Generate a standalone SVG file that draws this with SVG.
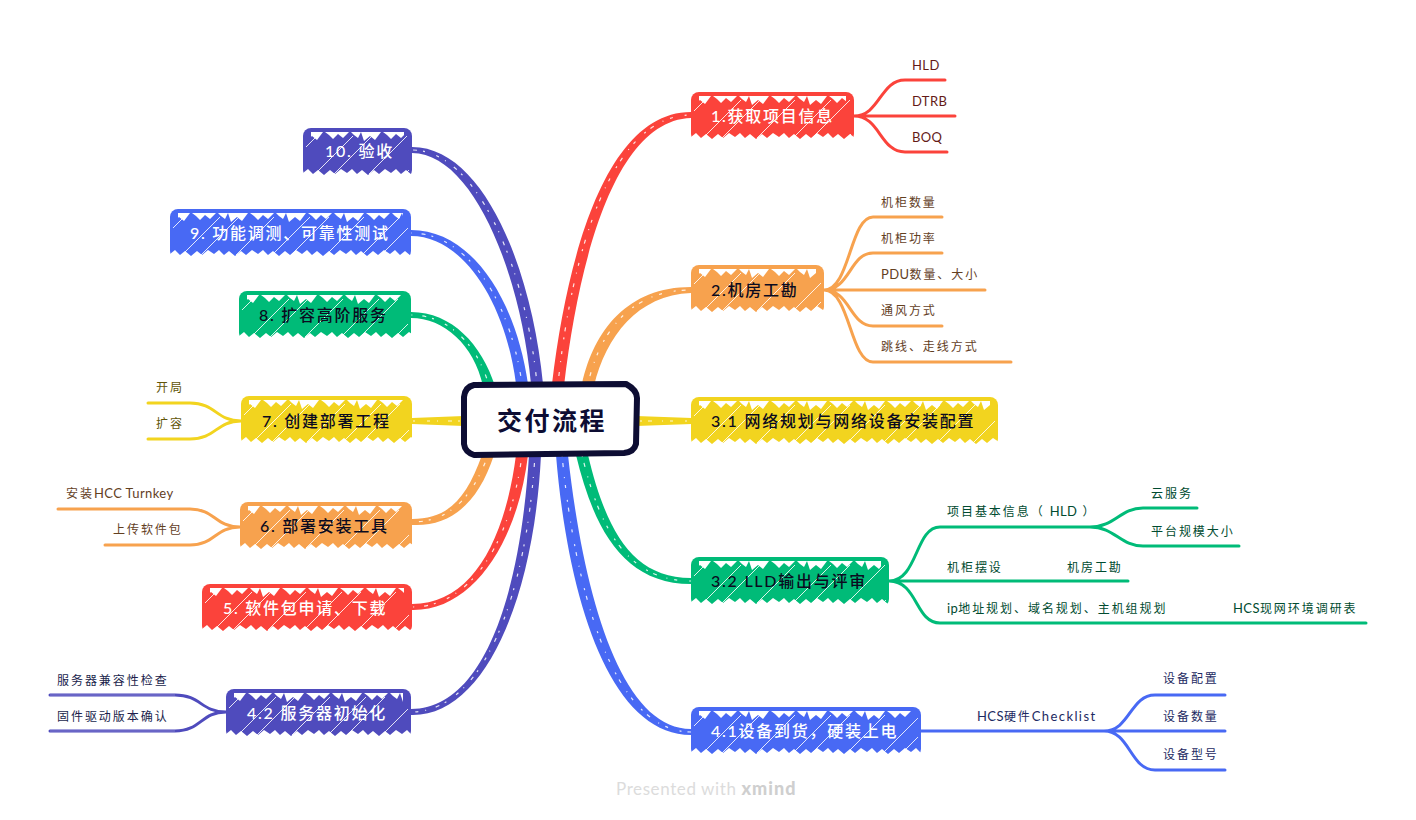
<svg xmlns="http://www.w3.org/2000/svg" width="1416" height="820" viewBox="0 0 1416 820">
<style>
text{font-family:"Lato","Noto Sans CJK SC",sans-serif}
.nt{font-size:16px;font-weight:500;letter-spacing:1.75px;fill:#0b0b20}
.nw{fill:#fff}
.st{font-size:12px;letter-spacing:1.95px}
.la{font-size:13px;letter-spacing:.4px}
.ck{font-size:13px;letter-spacing:1.4px}
.l{fill:none;stroke-width:3;stroke-linecap:round;stroke-linejoin:round}
.d{fill:none;stroke:#fff;stroke-width:1.2;stroke-dasharray:2 6 4 10 1 7 3 12;opacity:.85}
.r{stroke:#fb433b}.o{stroke:#f7a24e}.y{stroke:#f2d41f}.g{stroke:#00bb78}.b{stroke:#4869f4}.i{stroke:#4f4bbd}
.fr{fill:#fb433b}.fo{fill:#f7a24e}.fy{fill:#f2d41f}.fg{fill:#00bb78}.fb{fill:#4869f4}.fi{fill:#4f4bbd}
.tr{fill:#641a17}.to{fill:#63401f}.tg{fill:#004b30}.ty{fill:#615509}.tb{fill:#1d2a62}.ti{fill:#201e4c}
</style>
<defs>
<pattern id="hatch" patternUnits="userSpaceOnUse" width="90" height="90">
<path d="M22 0L0 22M90 22L22 90M58 0L0 58M90 58L58 90M77 0L0 77M90 77L77 90" stroke="#fff" stroke-width="1" fill="none" opacity=".85"/>
</pattern>
<pattern id="teethT" patternUnits="userSpaceOnUse" width="58" height="13">
<path d="M0 4H20L14 12L9 8L3 13ZM22 4H46L40 10L35 6L30 11L26 7ZM48 4H58L55 10L51 7Z" fill="#fff"/>
</pattern>
<pattern id="teethB" patternUnits="userSpaceOnUse" width="44" height="50">
<path d="M0 50V45L5 41L10 46L15 42L21 47L27 42L32 46L38 41L44 45V50Z" fill="#fff"/>
</pattern>
</defs>
<rect width="1416" height="820" fill="#fff"/>
<g id="connectors">
<path class="fr" d="M552 384C568 250 608 112 691 112L691 118C618 120 580 250 564 386Z"/>
<path class="fo" d="M582 384C594 330 628 287 691 287L691 293C638 295 606 336 594 386Z"/>
<path class="fy" d="M636 416L692 418V424L636 426Z"/>
<path class="fg" d="M576 455C594 530 624 584 691 584L691 578C632 578 606 530 588 455Z"/>
<path class="fb" d="M556 455C568 600 610 735 691 735L691 729C622 729 584 600 568 455Z"/>
<path class="fi" d="M531 384C520 270 472 153 412 153L412 147C484 147 532 270 543 384Z"/>
<path class="fb" d="M516 384C505 300 462 236 411 236L411 230C472 230 516 300 528 384Z"/>
<path class="fg" d="M483 386C474 345 444 318 411 318L411 312C452 312 482 345 495 386Z"/>
<path class="fy" d="M464 416L412 418V424L464 426Z"/>
<path class="fo" d="M482 455C466 500 447 519 412 519L412 525C450 527 478 504 494 455Z"/>
<path class="fr" d="M516 455C505 540 472 604 412 604L412 610C474 611 518 540 528 455Z"/>
<path class="fi" d="M529 455C520 600 482 709 411 709L411 715C484 717 534 600 541 455Z"/>
<path class="d" d="M558 384C572 250 612 115 691 115"/>
<path class="d" d="M588 384C600 330 632 290 691 290"/>
<path class="d" d="M640 421H691"/>
<path class="d" d="M582 455C600 530 628 581 691 581"/>
<path class="d" d="M562 455C576 600 616 732 691 732"/>
<path class="d" d="M537 384C526 270 478 150 412 150"/>
<path class="d" d="M522 384C510 300 467 233 411 233"/>
<path class="d" d="M489 386C478 345 448 315 411 315"/>
<path class="d" d="M460 421H412"/>
<path class="d" d="M488 455C472 500 447 522 412 522"/>
<path class="d" d="M522 455C511 540 472 607 412 607"/>
<path class="d" d="M535 455C526 600 482 712 411 712"/>
<path class="l r" d="M854 116C880 116 880 80 905 80H945M854 116H955M854 116C880 116 880 152 905 152H947"/>
<path class="l o" d="M824 290C850 290 850 217 873 217H942M824 290C850 290 850 253 873 253H942M824 290H985M824 290C850 290 850 326 873 326H942M824 290C850 290 850 362 873 362H1011"/>
<path class="l g" d="M889 581C918 581 915 527 940 527H1090C1115 527 1120 508 1143 508H1197M1090 527C1115 527 1120 546 1143 546H1239M889 581H1128M889 581C918 581 915 623 940 623H1366"/>
<path class="l b" d="M921 731H1104C1130 731 1130 695 1155 695H1225M1104 731H1225M1104 731C1130 731 1130 770 1155 770H1225"/>
<path class="l y" d="M241 421C216 421 216 403 190 403H148M241 421C216 421 216 439 190 439H148"/>
<path class="l o" d="M240 527C215 527 215 509 190 509H58M240 527C215 527 215 545 190 545H105"/>
<path class="l i" d="M226 712C201 712 201 695 175 695H50M226 712C201 712 201 731 175 731H50"/>
<path d="M50 695H175M50 731H175" fill="none" stroke="#fff" stroke-width=".5" opacity=".6"/>
</g>
<g id="n1" transform="translate(691 92)"><rect class="fr" width="163" height="50" rx="8"/><rect x="3" y="8" width="157" height="38" fill="url(#hatch)"/><rect x="8" width="147" height="13" fill="url(#teethT)"/><rect y="40" width="163" height="10" fill="url(#teethB)"/><text class="nt nw" x="20" y="30">1.获取项目信息</text></g>
<g id="n2" transform="translate(691 265)"><rect class="fo" width="133" height="50" rx="8"/><rect x="3" y="8" width="127" height="38" fill="url(#hatch)"/><rect x="8" width="117" height="13" fill="url(#teethT)"/><rect y="40" width="133" height="10" fill="url(#teethB)"/><text class="nt" x="20" y="31">2.机房工勘</text></g>
<g id="n31" transform="translate(691 397)"><rect class="fy" width="307" height="50" rx="8"/><rect x="3" y="8" width="301" height="38" fill="url(#hatch)"/><rect x="8" width="291" height="13" fill="url(#teethT)"/><rect y="40" width="307" height="10" fill="url(#teethB)"/><text class="nt" x="20" y="30">3.1 网络规划与网络设备安装配置</text></g>
<g id="n32" transform="translate(691 557)"><rect class="fg" width="198" height="50" rx="8"/><rect x="3" y="8" width="192" height="38" fill="url(#hatch)"/><rect x="8" width="182" height="13" fill="url(#teethT)"/><rect y="40" width="198" height="10" fill="url(#teethB)"/><text class="nt" x="20" y="30">3.2 LLD输出与评审</text></g>
<g id="n41" transform="translate(691 707)"><rect class="fb" width="230" height="50" rx="8"/><rect x="3" y="8" width="224" height="38" fill="url(#hatch)"/><rect x="8" width="214" height="13" fill="url(#teethT)"/><rect y="40" width="230" height="10" fill="url(#teethB)"/><text class="nt nw" x="20" y="30">4.1设备到货，硬装上电</text></g>
<g id="n10" transform="translate(303 128)"><rect class="fi" width="109" height="50" rx="8"/><rect x="3" y="8" width="103" height="38" fill="url(#hatch)"/><rect x="8" width="93" height="13" fill="url(#teethT)"/><rect y="40" width="109" height="10" fill="url(#teethB)"/><text class="nt nw" x="22" y="29">10. 验收</text></g>
<g id="n9" transform="translate(170 209)"><rect class="fb" width="241" height="50" rx="8"/><rect x="3" y="8" width="235" height="38" fill="url(#hatch)"/><rect x="8" width="225" height="13" fill="url(#teethT)"/><rect y="40" width="241" height="10" fill="url(#teethB)"/><text class="nt nw" x="20" y="30">9. 功能调测、可靠性测试</text></g>
<g id="n8" transform="translate(239 291)"><rect class="fg" width="172" height="50" rx="8"/><rect x="3" y="8" width="166" height="38" fill="url(#hatch)"/><rect x="8" width="156" height="13" fill="url(#teethT)"/><rect y="40" width="172" height="10" fill="url(#teethB)"/><text class="nt" x="20" y="30">8. 扩容高阶服务</text></g>
<g id="n7" transform="translate(241 396)"><rect class="fy" width="171" height="50" rx="8"/><rect x="3" y="8" width="165" height="38" fill="url(#hatch)"/><rect x="8" width="155" height="13" fill="url(#teethT)"/><rect y="40" width="171" height="10" fill="url(#teethB)"/><text class="nt" x="21" y="31">7. 创建部署工程</text></g>
<g id="n6" transform="translate(240 502)"><rect class="fo" width="172" height="50" rx="8"/><rect x="3" y="8" width="166" height="38" fill="url(#hatch)"/><rect x="8" width="156" height="13" fill="url(#teethT)"/><rect y="40" width="172" height="10" fill="url(#teethB)"/><text class="nt" x="20" y="30">6. 部署安装工具</text></g>
<g id="n5" transform="translate(202 584)"><rect class="fr" width="210" height="50" rx="8"/><rect x="3" y="8" width="204" height="38" fill="url(#hatch)"/><rect x="8" width="194" height="13" fill="url(#teethT)"/><rect y="40" width="210" height="10" fill="url(#teethB)"/><text class="nt nw" x="21" y="30">5. 软件包申请、下载</text></g>
<g id="n42" transform="translate(226 689)"><rect class="fi" width="185" height="50" rx="8"/><rect x="3" y="8" width="179" height="38" fill="url(#hatch)"/><rect x="8" width="169" height="13" fill="url(#teethT)"/><rect y="40" width="185" height="10" fill="url(#teethB)"/><text class="nt nw" x="21" y="30">4.2 服务器初始化</text></g>
<g id="center"><path d="M474 385L626 384Q637 390 637 398L636 444Q634 452 624 453L474 455Q465 452 464 444L464 397Q465 387 474 385Z" fill="#fff" stroke="#0d0d33" stroke-width="6" stroke-linejoin="round"/><text x="497" y="430" font-size="25" font-weight="700" letter-spacing="2.5" fill="#0d0d33">交付流程</text></g>
<g id="s1a"><text class="st la tr" x="912" y="69.500">HLD</text></g>
<g id="s1b"><text class="st la tr" x="912" y="105.500">DTRB</text></g>
<g id="s1c"><text class="st la tr" x="912" y="141.500">BOQ</text></g>
<g id="s2a"><text class="st to" x="881" y="206.500">机柜数量</text></g>
<g id="s2b"><text class="st to" x="881" y="242.500">机柜功率</text></g>
<g id="s2c"><text class="st to" x="881" y="278.500"><tspan class="la">PDU</tspan>数量、大小</text></g>
<g id="s2d"><text class="st to" x="881" y="315">通风方式</text></g>
<g id="s2e"><text class="st to" x="881" y="351">跳线、走线方式</text></g>
<g id="s32a"><text class="st tg" x="947" y="516">项目基本信息（ <tspan class="la">HLD</tspan> ）</text></g>
<g id="s32a1"><text class="st tg" x="1151" y="497.500">云服务</text></g>
<g id="s32a2"><text class="st tg" x="1151" y="535.500">平台规模大小</text></g>
<g id="s32b"><text class="st tg" x="947" y="571.500">机柜摆设</text></g>
<g id="s32b1"><text class="st tg" x="1067" y="571.500">机房工勘</text></g>
<g id="s32c"><text class="st tg" x="947" y="612.500"><tspan class="la">ip</tspan>地址规划、域名规划、主机组规划</text></g>
<g id="s32c1"><text class="st tg" x="1233" y="612.500"><tspan class="la">HCS</tspan>现网环境调研表</text></g>
<g id="s41"><text class="st tb" x="977" y="720.500"><tspan class="la">HCS</tspan>硬件<tspan class="ck">Checklist</tspan></text></g>
<g id="s41a"><text class="st tb" x="1163" y="682.500">设备配置</text></g>
<g id="s41b"><text class="st tb" x="1163" y="720.500">设备数量</text></g>
<g id="s41c"><text class="st tb" x="1163" y="758.500">设备型号</text></g>
<g id="s7a"><text class="st ty" x="156" y="391.500">开局</text></g>
<g id="s7b"><text class="st ty" x="156" y="427.500">扩容</text></g>
<g id="s6a"><text class="st to" x="66" y="497.500">安装<tspan class="la">HCC Turnkey</tspan></text></g>
<g id="s6b"><text class="st to" x="113" y="533.500">上传软件包</text></g>
<g id="s42a"><text class="st ti" x="57" y="684.500">服务器兼容性检查</text></g>
<g id="s42b"><text class="st ti" x="57" y="721">固件驱动版本确认</text></g>
<text x="616" y="795" font-size="17" letter-spacing=".6" fill="#dcdcdc">Presented with <tspan font-size="18" font-weight="900" letter-spacing="1" fill="#cfcfcf">xmind</tspan></text>
</svg>
